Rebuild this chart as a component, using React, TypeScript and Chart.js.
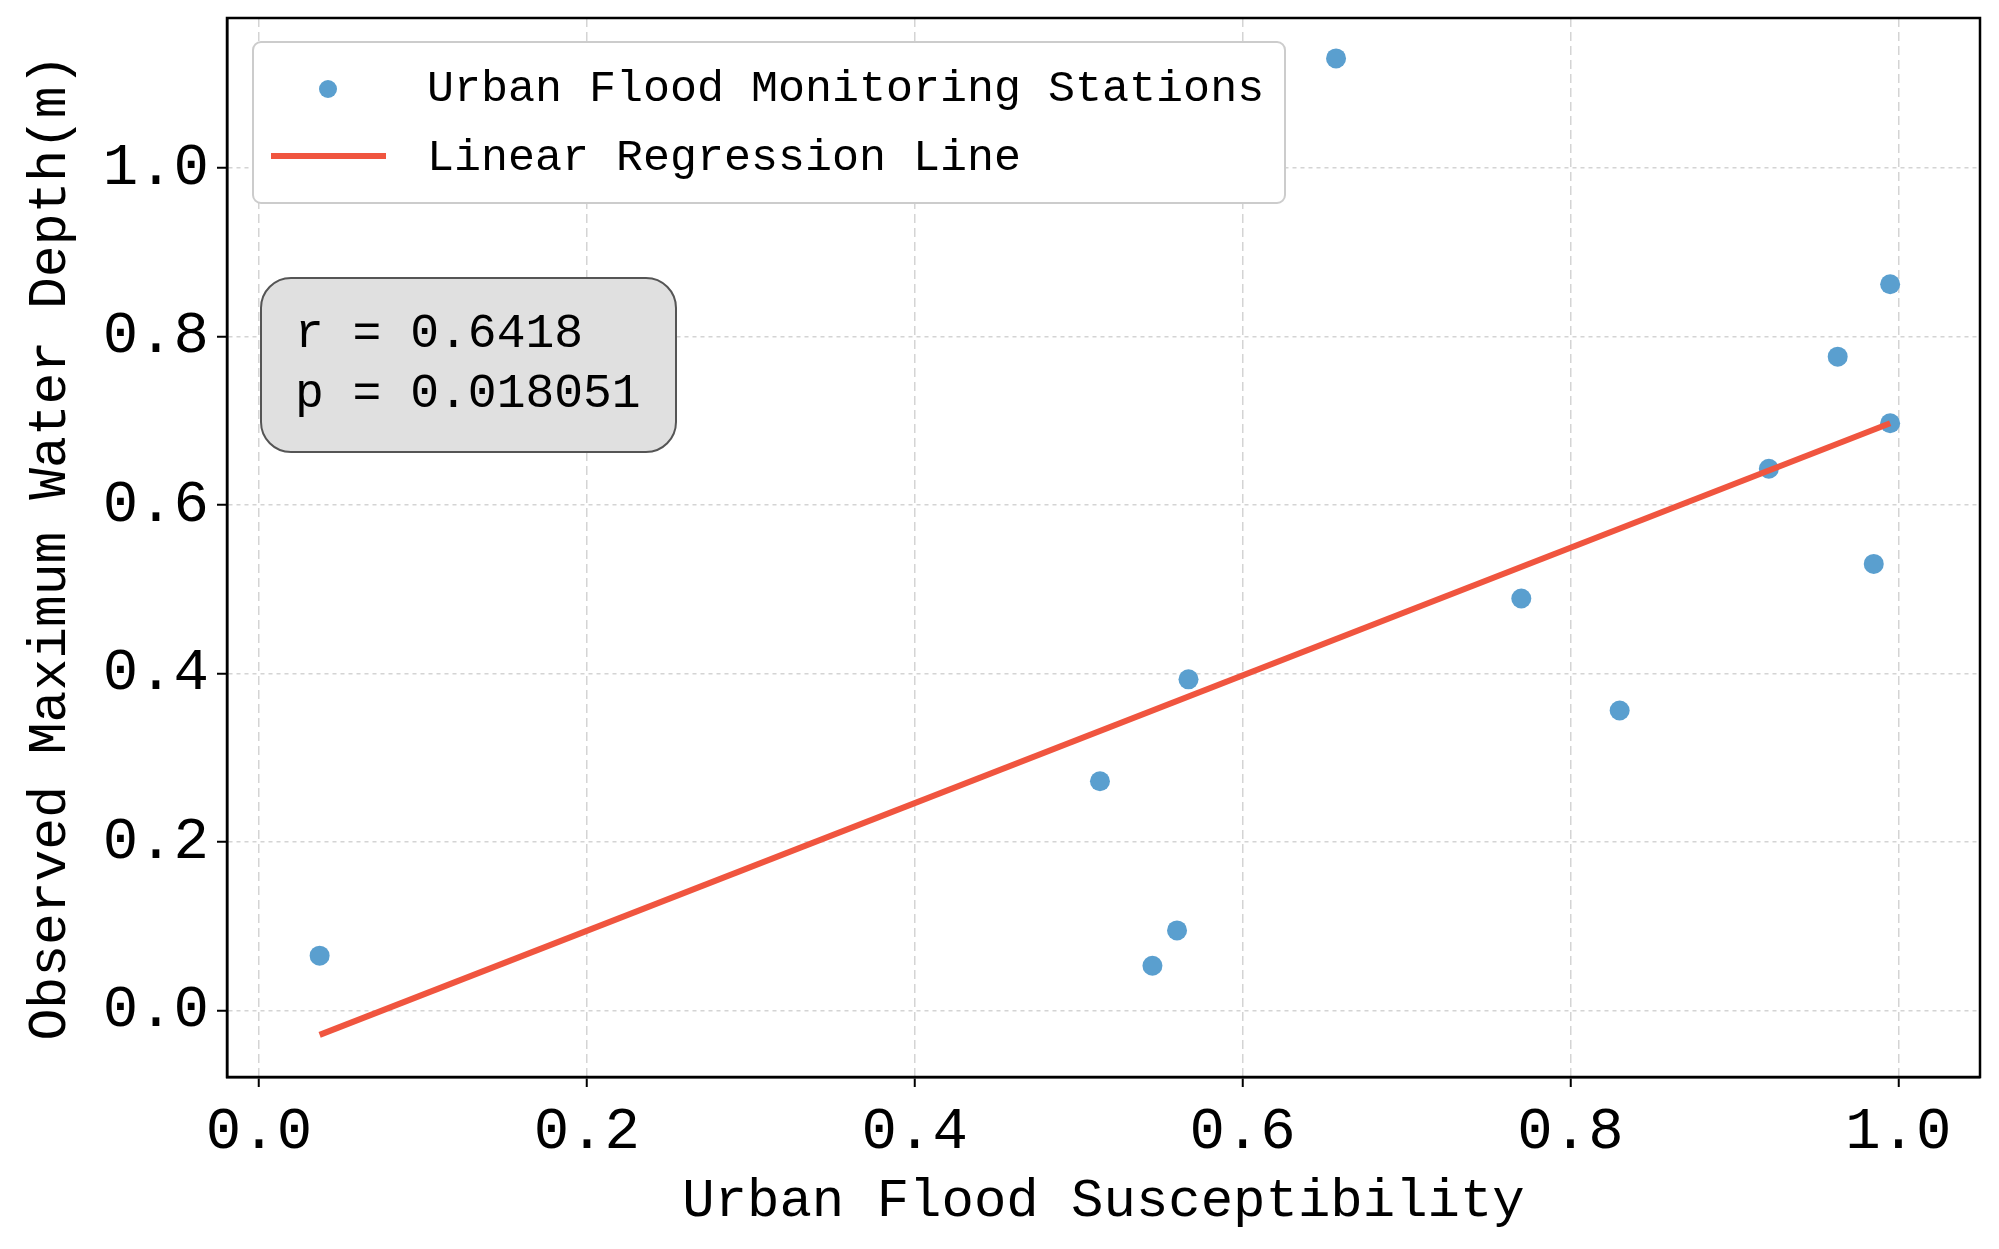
import { useEffect, useRef } from 'react';
import { Chart, registerables } from 'chart.js';
import type { Plugin } from 'chart.js';

Chart.register(...registerables);

// station values
const susceptibility = [0.037, 0.513, 0.545, 0.56, 0.567, 0.657, 0.77, 0.83, 0.921, 0.963, 0.985, 0.995, 0.995];
const waterDepth = [0.065, 0.272, 0.053, 0.095, 0.393, 1.13, 0.489, 0.356, 0.643, 0.776, 0.53, 0.862, 0.697];

// fitted line end points
const lineX = [0.037, 0.995];
const lineY = [-0.029, 0.697];

const xTicks = [0, 0.2, 0.4, 0.6, 0.8, 1.0];
const yTicks = [0, 0.2, 0.4, 0.6, 0.8, 1.0];

const statLines = ['r = 0.6418', 'p = 0.018051'];

const FONT = '"Liberation Mono", "DejaVu Sans Mono", monospace';
const POINT_COLOR = '#5a9fcf';
const LINE_COLOR = '#f0553f';

function roundRect(ctx: CanvasRenderingContext2D, x: number, y: number, w: number, h: number, r: number) {
  ctx.beginPath();
  ctx.moveTo(x + r, y);
  ctx.arcTo(x + w, y, x + w, y + h, r);
  ctx.arcTo(x + w, y + h, x, y + h, r);
  ctx.arcTo(x, y + h, x, y, r);
  ctx.arcTo(x, y, x + w, y, r);
  ctx.closePath();
}

const framePlugin: Plugin = {
  id: 'frame',
  afterDraw(chart) {
    const { ctx, chartArea } = chart;
    const left = chartArea.left;
    const top = chartArea.top;
    ctx.save();

    // axes frame
    ctx.strokeStyle = '#000';
    ctx.lineWidth = 2.5;
    ctx.strokeRect(left, top, chartArea.right - left, chartArea.bottom - top);

    // legend
    const lx = left + 26;
    const ly = top + 24;
    roundRect(ctx, lx, ly, 1032, 161, 8);
    ctx.fillStyle = '#ffffff';
    ctx.fill();
    ctx.strokeStyle = '#cccccc';
    ctx.lineWidth = 2;
    ctx.stroke();

    const sets = chart.data.datasets;
    ctx.font = `45px ${FONT}`;
    ctx.fillStyle = '#000';
    ctx.textBaseline = 'middle';
    ctx.textAlign = 'left';

    ctx.beginPath();
    ctx.arc(lx + 75, ly + 47, 9, 0, Math.PI * 2);
    ctx.fillStyle = POINT_COLOR;
    ctx.fill();
    ctx.fillStyle = '#000';
    ctx.fillText(String(sets[0].label), lx + 174, ly + 47);

    ctx.beginPath();
    ctx.moveTo(lx + 18, ly + 114);
    ctx.lineTo(lx + 133, ly + 114);
    ctx.strokeStyle = LINE_COLOR;
    ctx.lineWidth = 6;
    ctx.stroke();
    ctx.fillText(String(sets[1].label), lx + 174, ly + 116);

    // statistics box
    const bx = left + 34;
    const by = top + 260;
    roundRect(ctx, bx, by, 415, 174, 30);
    ctx.fillStyle = '#e0e0e0';
    ctx.fill();
    ctx.strokeStyle = '#555555';
    ctx.lineWidth = 2;
    ctx.stroke();
    ctx.fillStyle = '#000';
    ctx.font = `48px ${FONT}`;
    ctx.fillText(statLines[0], bx + 34, by + 56);
    ctx.fillText(statLines[1], bx + 34, by + 116);

    ctx.restore();
  },
};

export default function App() {
  const canvasRef = useRef<HTMLCanvasElement>(null);
  const chartRef = useRef<Chart | null>(null);

  useEffect(() => {
    if (!canvasRef.current) return;
    const ctx = canvasRef.current.getContext('2d');
    if (!ctx) return;
    if (chartRef.current) chartRef.current.destroy();

    const gridColor = '#d4d4d4';

    chartRef.current = new Chart(ctx, {
      type: 'scatter',
      data: {
        datasets: [
          {
            label: 'Urban Flood Monitoring Stations',
            data: susceptibility.map((x, i) => ({ x, y: waterDepth[i] })),
            backgroundColor: POINT_COLOR,
            borderWidth: 0,
            pointRadius: 10,
            order: 2,
          },
          {
            type: 'line',
            label: 'Linear Regression Line',
            data: lineX.map((x, i) => ({ x, y: lineY[i] })),
            borderColor: LINE_COLOR,
            borderWidth: 6,
            pointRadius: 0,
            showLine: true,
            fill: false,
            order: 1,
          },
        ],
      },
      options: {
        responsive: true,
        maintainAspectRatio: false,
        animation: false,
        layout: { padding: { top: 18, right: 19, left: 0, bottom: 0 } },
        plugins: {
          legend: { display: false },
          tooltip: { enabled: false },
        },
        scales: {
          x: {
            type: 'linear',
            min: -0.0195,
            max: 1.0498,
            afterBuildTicks: (scale) => {
              scale.ticks = xTicks.map((value) => ({ value }));
            },
            afterFit: (scale) => {
              scale.height = 172;
              scale.paddingLeft = 0;
              scale.paddingRight = 0;
            },
            ticks: {
              color: '#000',
              font: { family: FONT, size: 59 },
              padding: 10,
              maxRotation: 0,
              callback: (v) => Number(v).toFixed(1),
            },
            grid: {
              color: gridColor,
              lineWidth: 1.5,
              tickColor: '#000',
              tickWidth: 2,
              tickLength: 10,
              tickBorderDash: [],
            },
            border: { display: true, color: '#000', width: 2.5, dash: [9, 5] },
            title: {
              display: true,
              text: 'Urban Flood Susceptibility',
              color: '#000',
              font: { family: FONT, size: 54 },
              padding: { top: 0, bottom: 15 },
            },
          },
          y: {
            type: 'linear',
            min: -0.079,
            max: 1.178,
            afterBuildTicks: (scale) => {
              scale.ticks = yTicks.map((value) => ({ value }));
            },
            afterFit: (scale) => {
              scale.width = 227;
              scale.paddingTop = 0;
              scale.paddingBottom = 0;
            },
            ticks: {
              color: '#000',
              font: { family: FONT, size: 59 },
              padding: 8,
              callback: (v) => Number(v).toFixed(1),
            },
            grid: {
              color: gridColor,
              lineWidth: 1.5,
              tickColor: '#000',
              tickWidth: 2,
              tickLength: 10,
              tickBorderDash: [],
            },
            border: { display: true, color: '#000', width: 2.5, dash: [4, 4] },
            title: {
              display: true,
              text: 'Observed Maximum Water Depth(m)',
              color: '#000',
              font: { family: FONT, size: 53 },
              padding: { top: 19, bottom: 0 },
            },
          },
        },
      },
      plugins: [framePlugin],
    });

    return () => {
      if (chartRef.current) {
        chartRef.current.destroy();
        chartRef.current = null;
      }
    };
  }, []);

  return (
    <div style={{ position: 'fixed', left: 0, top: 0, width: 1999, height: 1249, background: '#fff' }}>
      <canvas ref={canvasRef} />
    </div>
  );
}
